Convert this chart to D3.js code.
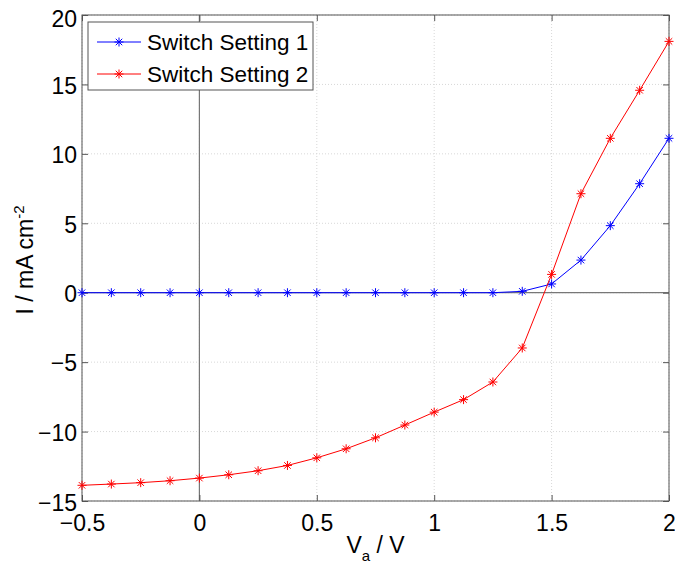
<!DOCTYPE html>
<html>
<head>
<meta charset="utf-8">
<script src="https://cdn.jsdelivr.net/npm/d3@7"></script>
<style>
  body { margin: 0; background: #fff; }
  svg text { font-family: "Liberation Sans", Arial, sans-serif; fill: #000; }
</style>
</head>
<body>
<svg id="chart" width="675" height="563"></svg>
<script>
// applied voltage (V)
var voltages = [-0.5, -0.375, -0.25, -0.125, 0, 0.125, 0.25, 0.375, 0.5, 0.625, 0.75,
                0.875, 1.0, 1.125, 1.25, 1.375, 1.5, 1.625, 1.75, 1.875, 2.0]
// current density (mA cm^-2)
var setting1 = [0, 0, 0, 0, 0, 0, 0, 0, 0, 0, 0,
                0, 0, 0, 0, 0.1, 0.63, 2.35, 4.83, 7.85, 11.12]
var setting2 = [-13.87, -13.78, -13.68, -13.54, -13.35, -13.11, -12.82, -12.44, -11.89, -11.24, -10.45,
                -9.53, -8.6, -7.7, -6.43, -3.98, 1.32, 7.13, 11.12, 14.58, 18.1]
var xTicks = [-0.5, 0, 0.5, 1, 1.5, 2]
var yTicks = [-15, -10, -5, 0, 5, 10, 15, 20]
var seriesNames = ['Switch Setting 1', 'Switch Setting 2']
var seriesColors = ['#0000ff', '#ff0000']

var margin = { top: 15, right: 6, bottom: 62, left: 82 },
    width = 675 - margin.left - margin.right,
    height = 563 - margin.top - margin.bottom;

var svg = d3.select('#chart')
var g = svg.append('g').attr('transform', `translate(${margin.left},${margin.top})`)

var x = d3.scaleLinear().domain([-0.5, 2]).range([0, width])
var y = d3.scaleLinear().domain([-15, 20]).range([height, 0])

// grid
g.append('g').selectAll('line')
    .data(xTicks).join('line')
    .attr('x1', d => x(d)).attr('x2', d => x(d))
    .attr('y1', 0).attr('y2', height)
    .attr('stroke', '#d8d8d8').attr('stroke-dasharray', '1,2')
g.append('g').selectAll('line')
    .data(yTicks).join('line')
    .attr('y1', d => y(d)).attr('y2', d => y(d))
    .attr('x1', 0).attr('x2', width)
    .attr('stroke', '#d8d8d8').attr('stroke-dasharray', '1,2')

// zero lines
g.append('line').attr('x1', x(0)).attr('x2', x(0)).attr('y1', 0).attr('y2', height)
    .attr('stroke', '#777').attr('stroke-width', 1.2)
g.append('line').attr('x1', 0).attr('x2', width).attr('y1', y(0)).attr('y2', y(0))
    .attr('stroke', '#777').attr('stroke-width', 1.2)

// axes
function styleAxis(sel) {
    sel.select('.domain').remove()
    sel.selectAll('.tick line').attr('stroke', '#555')
    sel.selectAll('.tick text').style('font-size', '23px')
}
g.append('g').attr('transform', `translate(0,${height})`)
    .call(d3.axisBottom(x).tickValues(xTicks).tickSize(-6).tickPadding(14).tickFormat(d3.format('')))
    .call(styleAxis)
g.append('g')
    .call(d3.axisTop(x).tickValues(xTicks).tickSize(-6).tickFormat(''))
    .call(styleAxis)
g.append('g')
    .call(d3.axisLeft(y).tickValues(yTicks).tickSize(-6).tickPadding(5).tickFormat(d3.format('')))
    .call(styleAxis)
    .call(a => a.selectAll('.tick text')
        .attr('dy', d => d === 20 ? '0.48em' : (d === -15 ? '0.4em' : '0.38em')))
g.append('g').attr('transform', `translate(${width},0)`)
    .call(d3.axisRight(y).tickValues(yTicks).tickSize(-6).tickFormat(''))
    .call(styleAxis)

g.append('rect').attr('width', width).attr('height', height)
    .attr('fill', 'none').attr('stroke', '#555').attr('stroke-width', 1)

// series
var line = d3.line().x(d => x(d[0])).y(d => y(d[1]))
var allSeries = [setting1, setting2]

function star(sel, color) {
    var s = 4.5, d = s * 0.72
    sel.append('line').attr('x1', -s).attr('x2', s).attr('y1', 0).attr('y2', 0)
    sel.append('line').attr('x1', 0).attr('x2', 0).attr('y1', -s).attr('y2', s)
    sel.append('line').attr('x1', -d).attr('x2', d).attr('y1', -d).attr('y2', d)
    sel.append('line').attr('x1', -d).attr('x2', d).attr('y1', d).attr('y2', -d)
    sel.attr('stroke', color).attr('stroke-width', 1)
}

allSeries.forEach(function(vals, i) {
    var pts = voltages.map((v, j) => [v, vals[j]])
    g.append('path').datum(pts)
        .attr('d', line)
        .attr('fill', 'none')
        .attr('stroke', seriesColors[i])
        .attr('stroke-width', 1)
    g.append('g').selectAll('g')
        .data(pts).join('g')
        .attr('transform', d => `translate(${x(d[0])},${y(d[1])})`)
        .each(function() { star(d3.select(this), seriesColors[i]) })
})

// legend
var leg = g.append('g').attr('transform', 'translate(6,7)')
leg.append('rect').attr('width', 225).attr('height', 68)
    .attr('fill', '#fff').attr('stroke', '#555').attr('stroke-width', 1)
seriesNames.forEach(function(name, i) {
    var ly = 20 + i * 32
    leg.append('line').attr('x1', 9).attr('x2', 53).attr('y1', ly).attr('y2', ly)
        .attr('stroke', seriesColors[i]).attr('stroke-width', 1)
    leg.append('g').attr('transform', `translate(31,${ly})`)
        .call(s => star(s, seriesColors[i]))
    leg.append('text').attr('x', 59).attr('y', ly + 8)
        .style('font-size', '22.5px').text(name)
})

// axis labels
var xl = svg.append('text')
    .attr('x', margin.left + x(0.75)).attr('y', 553)
    .attr('text-anchor', 'middle').style('font-size', '23px')
xl.append('tspan').text('V')
xl.append('tspan').attr('dy', 8).style('font-size', '15px').text('a')
xl.append('tspan').attr('dy', -8).text(' / V')

var yl = svg.append('text')
    .attr('transform', 'translate(33,260) rotate(-90)')
    .attr('text-anchor', 'middle').style('font-size', '23px')
yl.append('tspan').text('I / mA cm')
yl.append('tspan').attr('dy', -9).style('font-size', '15px').text('-2')
</script>
</body>
</html>
